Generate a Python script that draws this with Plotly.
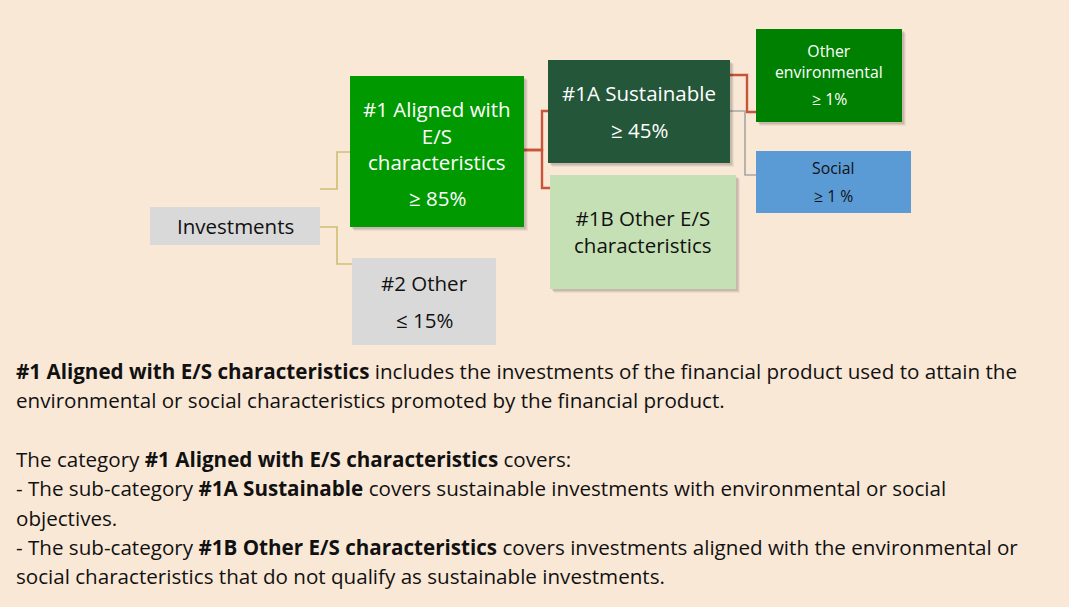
import plotly.graph_objects as go

# ---- data ----
node_ids = ["inv", "aligned", "other", "sust", "othes", "env", "soc"]
node_titles = [
    ["Investments"],
    ["#1 Aligned with", "E/S", "characteristics"],
    ["#2 Other"],
    ["#1A Sustainable"],
    ["#1B Other E/S", "characteristics"],
    ["Other", "environmental"],
    ["Social"],
]
node_shares = ["", "≥ 85%", "≤ 15%", "≥ 45%", "", "≥ 1%", "≥ 1 %"]
links = [("inv", "aligned"), ("inv", "other"), ("aligned", "sust"), ("aligned", "othes"),
         ("sust", "env"), ("sust", "soc")]

note_lines = [
    "<b>#1 Aligned with E/S characteristics</b> includes the investments of the financial product used to attain the",
    "environmental or social characteristics promoted by the financial product.",
    "",
    "The category <b>#1 Aligned with E/S characteristics</b> covers:",
    "- The sub-category <b>#1A Sustainable</b> covers sustainable investments with environmental or social",
    "objectives.",
    "- The sub-category <b>#1B Other E/S characteristics</b> covers investments aligned with the environmental or",
    "social characteristics that do not qualify as sustainable investments.",
]

# ---- layout / style (pixel space) ----
W, H = 1069, 607
BG = "#FAE8D7"
FONT = "Open Sans"
box = {  # x0, y0, x1, y1
    "inv": (150, 207, 320, 245),
    "aligned": (350, 76, 524, 227),
    "other": (352, 258, 496, 345),
    "sust": (548, 60, 730, 163),
    "othes": (550, 175, 736, 289),
    "env": (756, 29, 902, 122),
    "soc": (756, 151, 911, 213),
}
fill = {"inv": "#D9D9D9", "aligned": "#009A00", "other": "#D9D9D9", "sust": "#245639",
        "othes": "#C5E0B4", "env": "#008000", "soc": "#5B9BD5"}
tcol = {"inv": "#111111", "aligned": "white", "other": "#111111", "sust": "white",
        "othes": "#111111", "env": "white", "soc": "#111111"}
fsize = {"inv": 20.5, "aligned": 20.5, "other": 20.5, "sust": 20.5, "othes": 20.5, "env": 15.8, "soc": 15.8}
title_cy = {"inv": 226, "aligned": 135, "other": 283, "sust": 93,
            "othes": 231.5, "env": 61.5, "soc": 168}
share_y = {"aligned": 198, "other": 320, "sust": 130, "env": 99, "soc": 196}
shadow = {"sust", "othes", "env", "aligned"}
# connector geometry: (start_y, elbow_x, end_y, colour, width)
conn = {
    ("inv", "aligned"): (189, 337, 152, "#CDBE74", 1.6),
    ("inv", "other"): (227, 337, 264, "#CDBE74", 1.6),
    ("aligned", "sust"): (150, 542, 111, "#C8553A", 2.4),
    ("aligned", "othes"): (150, 542, 188, "#C8553A", 2.4),
    ("sust", "env"): (75, 747, 112, "#C8553A", 2.4),
    ("sust", "soc"): (111, 745, 175, "#A6A6A6", 1.6),
}

shapes, annotations = [], []

for (a, b) in links:
    y0, xm, y1, col, lw = conn[(a, b)]
    xa = box[a][2]
    xb = box[b][0]
    shapes.append(dict(type="path", xref="x", yref="y",
                       path=f"M {xa},{y0} L {xm},{y0} L {xm},{y1} L {xb},{y1}",
                       line=dict(color=col, width=lw), layer="below"))

for i, nid in enumerate(node_ids):
    x0, y0, x1, y1 = box[nid]
    if nid in shadow:
        for k, op in [(4, 0.05), (3, 0.07), (2, 0.09)]:
            shapes.append(dict(type="rect", xref="x", yref="y", x0=x0 + k, y0=y0 + k, x1=x1 + k, y1=y1 + k,
                               fillcolor=f"rgba(0,0,0,{op})", line=dict(width=0), layer="below"))
    shapes.append(dict(type="rect", xref="x", yref="y", x0=x0, y0=y0, x1=x1, y1=y1,
                       fillcolor=fill[nid], line=dict(width=0), layer="below"))
    cx = (x0 + x1) / 2
    annotations.append(dict(x=cx, y=title_cy[nid], xref="x", yref="y",
                            text="<br>".join(node_titles[i]), showarrow=False,
                            xanchor="center", yanchor="middle", align="center",
                            font=dict(family=FONT, size=fsize[nid], color=tcol[nid])))
    if node_shares[i]:
        annotations.append(dict(x=cx, y=share_y[nid], xref="x", yref="y", text=node_shares[i],
                                showarrow=False, xanchor="center", yanchor="middle",
                                font=dict(family=FONT, size=fsize[nid], color=tcol[nid])))

note_y0, note_dy = 371, 29.3
for j, line in enumerate(note_lines):
    if not line:
        continue
    annotations.append(dict(x=14, y=note_y0 + j * note_dy, xref="x", yref="y", text=line,
                            showarrow=False, xanchor="left", yanchor="middle",
                            font=dict(family=FONT, size=20.6, color="#111111")))

fig = go.Figure()
fig.update_layout(
    width=W, height=H, margin=dict(l=0, r=0, t=0, b=0),
    paper_bgcolor=BG, plot_bgcolor=BG,
    xaxis=dict(range=[0, W], visible=False, fixedrange=True),
    yaxis=dict(range=[H, 0], visible=False, fixedrange=True),
    shapes=shapes, annotations=annotations, showlegend=False,
)
fig.write_html("out.html", config={"displayModeBar": False},
               post_script="document.body.style.margin='0';document.body.style.overflow='hidden';")
